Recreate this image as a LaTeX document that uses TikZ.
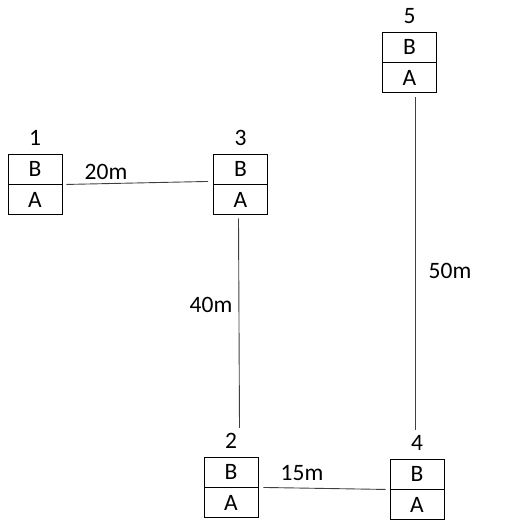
\documentclass[tikz,border=0pt]{standalone}
\usepackage{fontspec}
\setmainfont{Carlito}
\usetikzlibrary{positioning}

\begin{document}
\begin{tikzpicture}[
        x=1pt, y=-1pt,
        font=\fontsize{23.5}{28}\selectfont,
        cell/.style={draw, line width=0.9pt, minimum width=54pt, minimum height=30pt, inner sep=0pt},
        num/.style={inner sep=1pt},
        dist/.style={inner sep=1pt},
        link/.style={draw=black!75, line width=0.9pt},
      ]
        \useasboundingbox (0,0) rectangle (512,525);
        % boxes: B on top, A below
        \node[cell] (b1) at (35,169)    {B};
        \node[cell, below=0pt of b1] (a1) {A};
        \node[cell] (b3) at (240.5,169) {B};
        \node[cell, below=0pt of b3] (a3) {A};
        \node[cell] (b5) at (409.5,47)  {B};
        \node[cell, below=0pt of b5] (a5) {A};
        \node[cell] (b2) at (231,472)   {B};
        \node[cell, below=0pt of b2] (a2) {A};
        \node[cell] (b4) at (417,474)   {B};
        \node[cell, below=0pt of b4] (a4) {A};
        % numbers
        \node[num, above=7pt of b1] (n1) {1};
        \node[num, above=7pt of b3] (n3) {3};
        \node[num, above=7pt of b5] (n5) {5};
        \node[num, above=7pt of b2] (n2) {2};
        \node[num, above=7pt of b4] (n4) {4};
        % links
        \draw[link] ([xshift=4pt]a1.north east) -- ([xshift=-5pt,yshift=3pt]a3.north west);
        \draw[link] ([xshift=-2pt,yshift=-3pt]a3.south) -- ([xshift=-1pt,yshift=4pt]a3.south |- n2.north);
        \draw[link] ([xshift=5pt]a2.north east) -- ([xshift=-4pt]a4.north west);
        \draw[link] ([xshift=6pt,yshift=-4pt]a5.south) -- ([xshift=6pt,yshift=4pt]a5.south |- n4.north);
        % distances
        \node[dist] (d13) at (106,172) {20m};
        \node[dist] (d32) at (211,305) {40m};
        \node[dist] (d24) at (302,473) {15m};
        \node[dist] (d54) at (450,271) {50m};
      \end{tikzpicture}
\end{document}
